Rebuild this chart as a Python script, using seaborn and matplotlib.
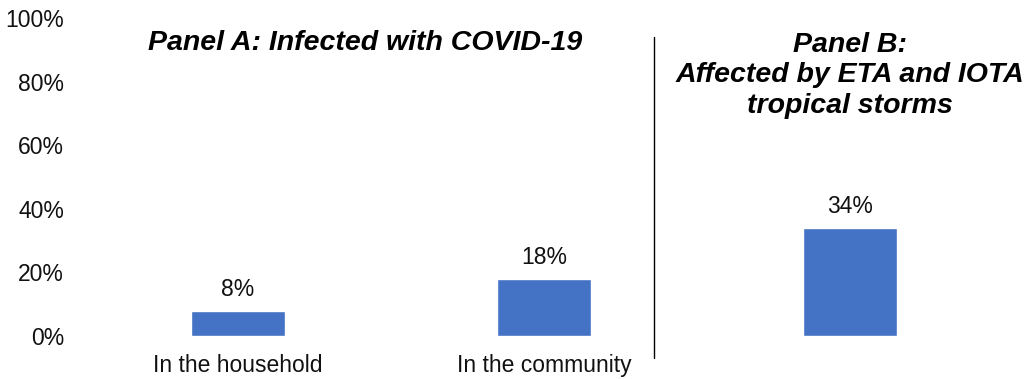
import matplotlib
matplotlib.use("Agg")
import matplotlib.pyplot as plt
import seaborn as sns
import pandas as pd

# Survey shares (percent of households)
categories = ["In the household", "In the community", "Affected by storms"]
values = [8, 18, 34]
tick_labels = ["In the household", "In the community", ""]
value_labels = ["8%", "18%", "34%"]
y_ticks = [0, 20, 40, 60, 80, 100]
y_tick_labels = ["0%", "20%", "40%", "60%", "80%", "100%"]

sns.set_theme(style="white")
plt.rcParams["font.family"] = ["Liberation Sans", "DejaVu Sans"]

df = pd.DataFrame({"category": categories, "share": values})

fig = plt.figure(figsize=(10.24, 3.79), dpi=100)
ax = fig.add_axes([85 / 1024, 43 / 379, 918 / 1024, 318 / 379])

sns.barplot(data=df, x="category", y="share", color="#4472C4",
            saturation=1, width=0.31, ax=ax)

ax.set_xlim(-0.5, 2.5)
ax.set_ylim(0, 100)
ax.set_yticks(y_ticks)
ax.set_yticklabels(y_tick_labels, fontsize=16.5, color="#111111")
ax.set_xticks(range(len(categories)))
ax.set_xticklabels(tick_labels, fontsize=16.5, color="#111111")
ax.tick_params(axis="y", length=0, pad=15)
ax.tick_params(axis="x", length=0, pad=13)
ax.set_xlabel("")
ax.set_ylabel("")
for s in ax.spines.values():
    s.set_visible(False)

# Value labels above bars
for i, (v, lab) in enumerate(zip(values, value_labels)):
    ax.annotate(lab, xy=(i, v), xytext=(0, 10.5), textcoords="offset points",
                ha="center", va="baseline", fontsize=16.5, color="#111111")

# Divider between the two panels
ax.plot([1.36, 1.36], [-0.069, 0.94], transform=ax.get_xaxis_transform(),
        color="black", lw=1, clip_on=False)

# Panel headings
ax.text(0.415, 0.92, "Panel A: Infected with COVID-19",
        transform=ax.get_xaxis_transform(), ha="center", va="center",
        fontsize=20.5, fontweight="bold", fontstyle="italic", color="black")
ax.text(2.0, 0.82, "Panel B:\nAffected by ETA and IOTA\ntropical storms",
        transform=ax.get_xaxis_transform(), ha="center", va="center",
        fontsize=20.5, fontweight="bold", fontstyle="italic", color="black",
        linespacing=1.22)

fig.savefig("out.png", dpi=100)
